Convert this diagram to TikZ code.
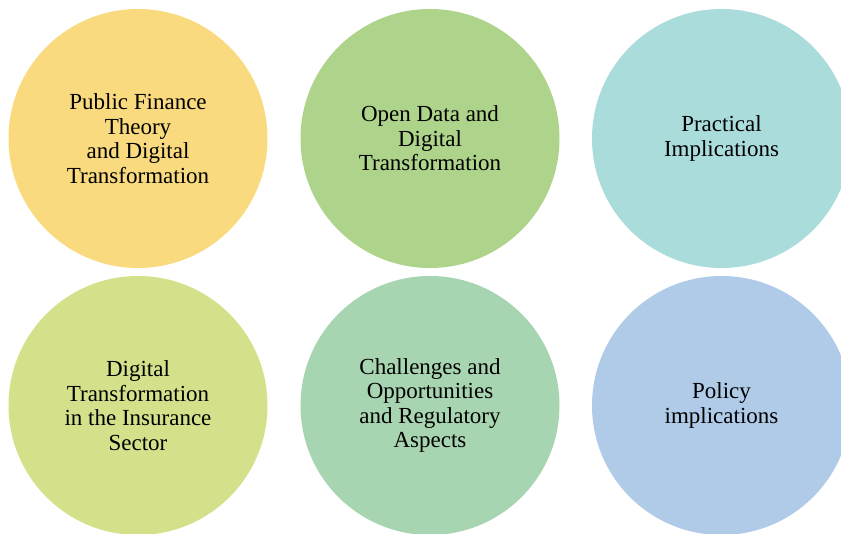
\documentclass[tikz,border=0pt]{standalone}
\usepackage{fontspec}
\setmainfont{Liberation Serif}
\usepackage{tikz}

\definecolor{pfyellow}{HTML}{F9DA7E}
\definecolor{odgreen}{HTML}{ADD48A}
\definecolor{piteal}{HTML}{AADCDC}
\definecolor{dtlime}{HTML}{D4E18A}
\definecolor{cramint}{HTML}{A8D5B1}
\definecolor{poblue}{HTML}{AFCBE7}
\newcommand{\topicfont}{\fontsize{23}{24.5}\selectfont}

\begin{document}
\begin{tikzpicture}[x=1pt,y=-1pt,
  topic/.style={circle, minimum size=259pt, inner sep=0pt, align=center, font=\topicfont}]
\useasboundingbox (0,0) rectangle (841,534);
\node[topic, fill=pfyellow] (pft) at (138,138.5) {Public Finance\\Theory\\and Digital\\Transformation};
\node[topic, fill=odgreen] (odt) at (430,138.5) {Open Data and\\Digital\\Transformation};
\node[topic, fill=piteal] (pim) at (721.5,138.5) {Practical\\Implications};
\node[topic, fill=dtlime] (dti) at (138,405.5) {Digital\\Transformation\\in the Insurance\\Sector};
\node[topic, fill=cramint] (cor) at (430,405.5) {Challenges and\\Opportunities\\and Regulatory\\Aspects};
\node[topic, fill=poblue] (pol) at (721.5,405.5) {Policy\\implications};
\end{tikzpicture}
\end{document}
